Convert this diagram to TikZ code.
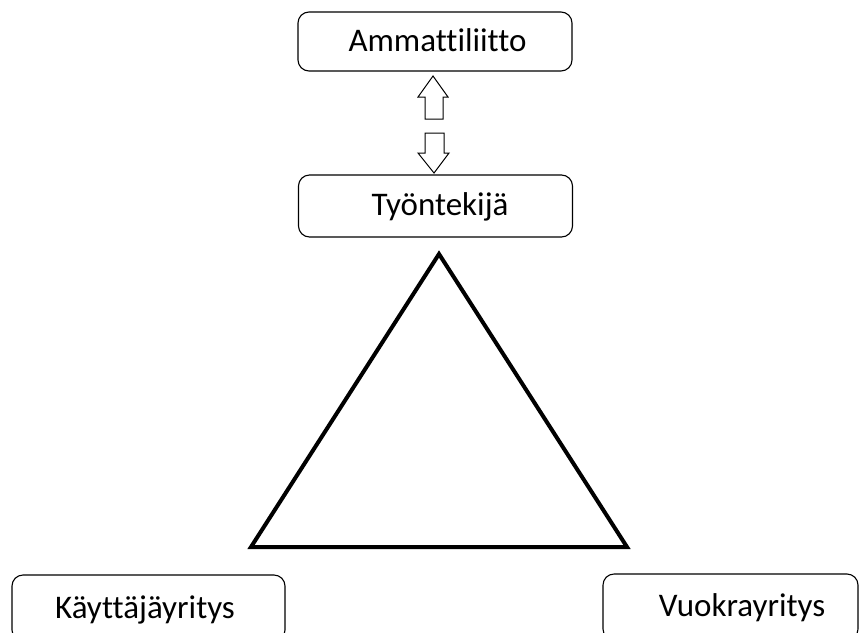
\documentclass[tikz,border=0pt]{standalone}
\usepackage{fontspec}
\setmainfont{Carlito}[Ligatures=NoCommon]
\begin{document}
\begin{tikzpicture}[x=1pt,y=-1pt,
  box/.style={draw=black, line width=1.1pt, rounded corners=11pt, inner sep=0pt},
  lbl/.style={font=\fontsize{33}{39}\selectfont, text=black, inner sep=0pt, anchor=base},
  blockarrow/.style={draw=black, line width=1pt, fill=white, line join=miter}]
\useasboundingbox (0,0) rectangle (864,632);
\clip (0,0) rectangle (864,632);
% boxes
\node[box, minimum width=274pt, minimum height=59pt] (amm) at (435,41.5) {};
\node[box, minimum width=274pt, minimum height=62pt] (tyo) at (435.5,206) {};
\node[box, minimum width=273pt, minimum height=66pt] (kay) at (148.5,608) {};
\node[box, minimum width=255pt, minimum height=66pt] (vuo) at (730.5,607) {};
% labels
\node[lbl] (tamm) at (437.5,51) {Ammattiliitto};
\node[lbl] (ttyo) at (440,215) {Työntekijä};
\node[lbl] (tkay) at (145,618) {Käyttäjäyritys};
\node[lbl] (tvuo) at (742,616) {Vuokrayritys};
% hollow block arrows
\draw[blockarrow] (433,76) -- (448,97) -- (443,97) -- (443,119) -- (425,119) -- (425,97) -- (418,97) -- cycle;
\draw[blockarrow] (425,133) -- (444,133) -- (444,153) -- (449,153) -- (434,173) -- (418,153) -- (425,153) -- cycle;
% triangle
\coordinate (apex) at (439,254);
\coordinate (bl) at (251,547);
\coordinate (br) at (627,547);
\draw[line width=4pt, line join=miter] (apex) -- (br) -- (bl) -- cycle;
\end{tikzpicture}
\end{document}
